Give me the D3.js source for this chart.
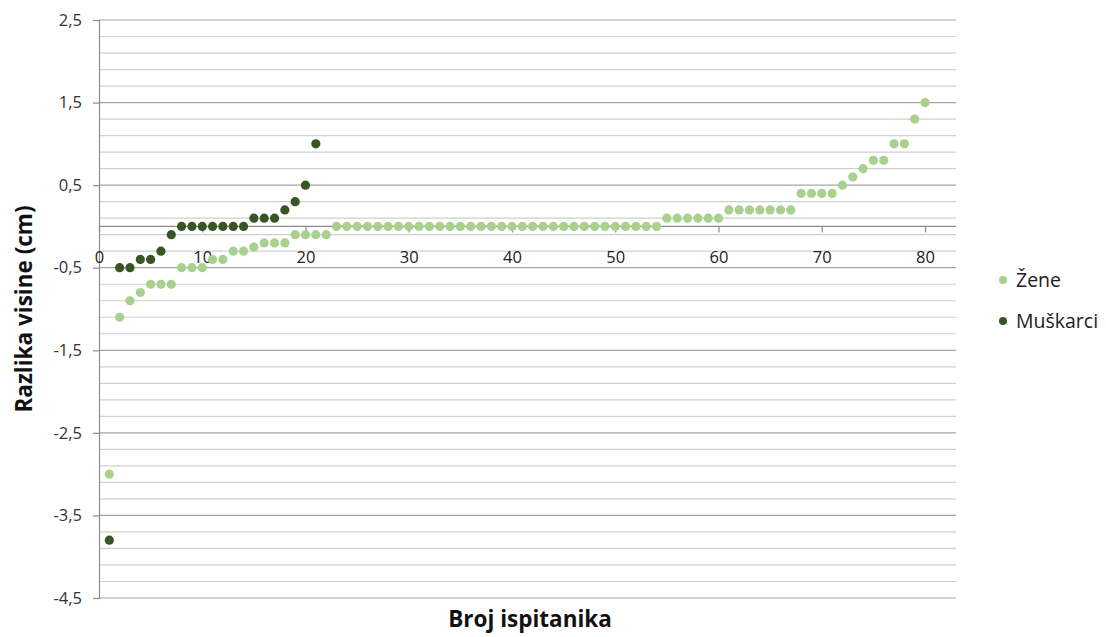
<!DOCTYPE html>
<html><head><meta charset="utf-8">
<script src="https://cdn.jsdelivr.net/npm/d3@7"></script>
<style>
body{margin:0;background:#fff;}
svg text{font-family:"Open Sans",Lato,sans-serif;}
</style></head><body>
<svg id="c" width="1106" height="637"></svg>
<script>
const zeneValues = [-3.0,-1.1,-0.9,-0.8,-0.7,-0.7,-0.7,-0.5,-0.5,-0.5,-0.4,-0.4,-0.3,-0.3,-0.25,-0.2,-0.2,-0.2,-0.1,-0.1,-0.1,-0.1,
 0,0,0,0,0,0,0,0,0,0,0,0,0,0,0,0,0,0,0,0,0,0,0,0,0,0,0,0,0,0,0,0,
 0.1,0.1,0.1,0.1,0.1,0.1,0.2,0.2,0.2,0.2,0.2,0.2,0.2,0.4,0.4,0.4,0.4,0.5,0.6,0.7,0.8,0.8,1.0,1.0,1.3,1.5];
const muskarciValues = [-3.8,-0.5,-0.5,-0.4,-0.4,-0.3,-0.1,0,0,0,0,0,0,0,0.1,0.1,0.1,0.2,0.3,0.5,1.0];
const seriesNames = ["Žene","Muškarci"];
const xTicks = [0,10,20,30,40,50,60,70,80];
const yTicks = [2.5,1.5,0.5,-0.5,-1.5,-2.5,-3.5,-4.5];
const yTickLabels = ["2,5","1,5","0,5","-0,5","-1,5","-2,5","-3,5","-4,5"];
const yMinor = d3.range(25,-46,-2).map(v=>v/10);
const xTitle = "Broj ispitanika";
const yTitle = "Razlika visine (cm)";

const colors = ["#A9D18E","#375623"];
const svg = d3.select("#c");
const L=99,R=956,T=20,B=598;
const x = d3.scaleLinear().domain([0,83]).range([L,R]);
const y = d3.scaleLinear().domain([-4.5,2.5]).range([B,T]);

// gridlines
svg.append("g").selectAll("line").data(yMinor).join("line")
  .attr("x1",L).attr("x2",R).attr("y1",d=>y(d)).attr("y2",d=>y(d))
  .attr("stroke",d=> yTicks.some(t=>Math.abs(t-d)<1e-6) ? "#A6A6A6" : "#CFCFCF").attr("stroke-width",1.2);

// y axis
const yAxis = svg.append("g").attr("transform",`translate(${L},0)`)
  .call(d3.axisLeft(y).tickValues(yTicks).tickSize(6).tickPadding(11).tickFormat((d,i)=>yTickLabels[i]));
yAxis.select(".domain").attr("stroke","#8C8C8C").attr("stroke-width",1.2);
yAxis.selectAll(".tick line").attr("stroke","#8C8C8C").attr("stroke-width",1.2);
yAxis.selectAll("text").attr("font-size",16.5).attr("fill","#333");

// x axis at y=0
const xAxis = svg.append("g").attr("transform",`translate(0,${y(0)})`)
  .call(d3.axisBottom(x).tickValues(xTicks).tickSize(6).tickPadding(0).tickFormat(d3.format("d")));
xAxis.select(".domain").attr("d",`M${L},0H${R}`).attr("stroke","#8C8C8C").attr("stroke-width",1.2);
xAxis.selectAll(".tick line").attr("stroke","#8C8C8C").attr("stroke-width",1.2);
xAxis.selectAll("text").attr("font-size",16.5).attr("fill","#222").attr("y",37).attr("dy",null);

// points
[zeneValues,muskarciValues].forEach((vals,s)=>{
  svg.append("g").selectAll("circle").data(vals).join("circle")
    .attr("cx",(d,i)=>x(i+1)).attr("cy",d=>y(d)).attr("r",4.6).attr("fill",colors[s]);
});

// titles
svg.append("text").attr("x",530).attr("y",627).attr("text-anchor","middle")
  .attr("font-size",22.5).attr("font-weight","bold").attr("fill","#111").text(xTitle);
svg.append("text").attr("transform",`translate(32,${(T+B)/2}) rotate(-90)`).attr("text-anchor","middle")
  .attr("font-size",22.5).attr("font-weight","bold").attr("fill","#111").text(yTitle);

// legend
const lg = svg.append("g");
seriesNames.forEach((n,i)=>{
  const yy = 280 + i*41;
  lg.append("circle").attr("cx",1003).attr("cy",yy).attr("r",4).attr("fill",colors[i]);
  lg.append("text").attr("x",1016).attr("y",yy).attr("dy","0.35em").attr("font-size",19.5).attr("fill","#222").text(n);
});
</script></body></html>
